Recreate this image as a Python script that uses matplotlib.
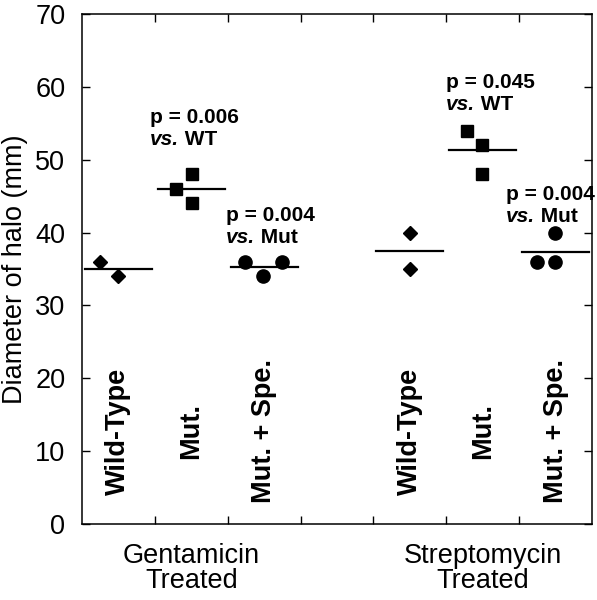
import numpy as np
import matplotlib
matplotlib.use("Agg")
import matplotlib.pyplot as plt

plt.rcParams['font.family'] = ['Liberation Sans', 'DejaVu Sans']

# group centres on the x axis (0..7) and the halo diameters (mm)
groups = ["Wild-Type", "Mut.", "Mut. + Spe.", "Wild-Type", "Mut.", "Mut. + Spe."]
centres = [0.5, 1.5, 2.5, 4.5, 5.5, 6.5]
markers = ["D", "s", "o", "D", "s", "o"]
marker_sizes = [7.5, 8.5, 9.5, 7.5, 8.5, 9.5]
values = [
    [36, 34],
    [46, 48, 44],
    [36, 34, 36],
    [40, 35],
    [54, 52, 48],
    [36, 36, 40],
]
# horizontal scatter of the points within each group
jitter = [
    [-0.25, -0.01],
    [-0.21, 0.01, 0.01],
    [-0.26, -0.02, 0.24],
    [0.0, 0.0],
    [-0.22, -0.01, -0.01],
    [-0.25, -0.01, -0.01],
]
treatments = ["Gentamicin\nTreated", "Streptomycin\nTreated"]
treat_pos = [1.5, 5.5]

# p-value notes: x, y of first line, p text, comparison
notes = [
    (0.93, 55.0, "p = 0.006", "WT"),
    (1.98, 41.6, "p = 0.004", "Mut"),
    (5.0, 59.8, "p = 0.045", "WT"),
    (5.82, 44.4, "p = 0.004", "Mut"),
]

fig = plt.figure(figsize=(5.97, 6.0), dpi=100)
ax = fig.add_axes([0.1374, 0.1267, 0.8542, 0.85])

for c, m, ms, v, j in zip(centres, markers, marker_sizes, values, jitter):
    xs = np.array(j) + c
    ax.plot(xs, v, linestyle="none", marker=m, ms=ms, color="black", clip_on=False)
    ax.plot([c - 0.46, c + 0.46], [np.mean(v), np.mean(v)], color="black", lw=1.6)

for c, g in zip(centres, groups):
    ax.text(c, 12.7, g, rotation=90, ha="center", va="center",
            fontsize=19.5, fontweight="bold")

for x, y, p, vs in notes:
    ax.text(x, y, p, fontsize=15, fontweight="bold", ha="left", va="baseline",
            clip_on=False)
    t = ax.text(x, y - 3.0, "vs.", fontsize=15, fontweight="bold", style="italic",
                ha="left", va="baseline", clip_on=False)
    ax.annotate(" " + vs, xy=(1, 0), xycoords=t, fontsize=15, fontweight="bold",
                ha="left", va="bottom", annotation_clip=False)

ax.set_xlim(0, 7)
ax.set_ylim(0, 70)
ax.set_xticks([1, 2, 3, 4, 5, 6])
ax.set_xticklabels([])
ax.set_xticks(treat_pos, minor=True)
ax.set_xticklabels(treatments, minor=True, fontsize=19.5, linespacing=0.95)
ax.tick_params(axis="x", which="minor", length=0, pad=14)
ax.set_yticks(range(0, 71, 10))
ax.tick_params(axis="both", which="major", direction="in", length=6, width=1,
               top=True, right=True, labelsize=19.5)
ax.tick_params(axis="y", pad=12)
ax.set_ylabel("Diameter of halo (mm)", fontsize=19.5, labelpad=5)
for s in ax.spines.values():
    s.set_linewidth(1.1)

fig.savefig("out.png", dpi=100)
